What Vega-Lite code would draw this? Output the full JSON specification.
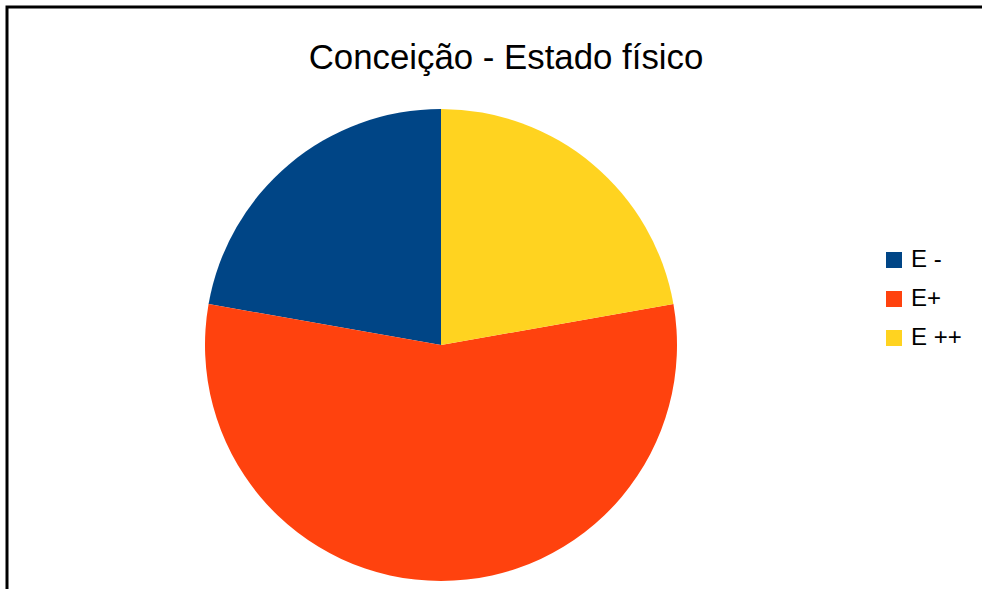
{
  "$schema": "https://vega.github.io/schema/vega-lite/v6.json",
  "autosize": "none",
  "width": 1000,
  "height": 700,
  "padding": {"left": 7, "top": 7, "right": 0, "bottom": 0},
  "background": "white",
  "view": {"stroke": "black", "strokeWidth": 3, "fill": "white"},
  "config": {
    "view": {"stroke": "black", "strokeWidth": 3},
    "font": "Liberation Sans"
  },
  "title": {
    "text": "Conceição - Estado físico",
    "frame": "group",
    "anchor": "middle",
    "baseline": "alphabetic",
    "offset": -65,
    "dy": 32,
    "fontSize": 34.8,
    "fontWeight": "normal",
    "font": "Liberation Sans",
    "color": "black",
    "dx": -1
  },
  "data": {
    "values": [
      {"categoria": "E -", "idx": 1, "valor": 2},
      {"categoria": "E+", "idx": 2, "valor": 5},
      {"categoria": "E ++", "idx": 3, "valor": 2}
    ]
  },
  "mark": {"type": "arc", "outerRadius": 236, "x": 434, "y": 338},
  "encoding": {
    "theta": {"field": "valor", "type": "quantitative", "stack": true},
    "order": {"field": "idx", "sort": "descending"},
    "color": {
      "field": "categoria",
      "type": "nominal",
      "scale": {"domain": ["E -", "E+", "E ++"], "range": ["#004586", "#ff420e", "#ffd320"]},
      "legend": {
        "title": null,
        "orient": "none",
        "legendX": 875,
        "legendY": 241,
        "symbolType": "square",
        "symbolSize": 256,
        "symbolStrokeWidth": 0,
        "labelFontSize": 24,
        "labelFont": "Liberation Sans",
        "labelColor": "black",
        "labelOffset": 5,
        "rowPadding": 15
      }
    }
  }
}
